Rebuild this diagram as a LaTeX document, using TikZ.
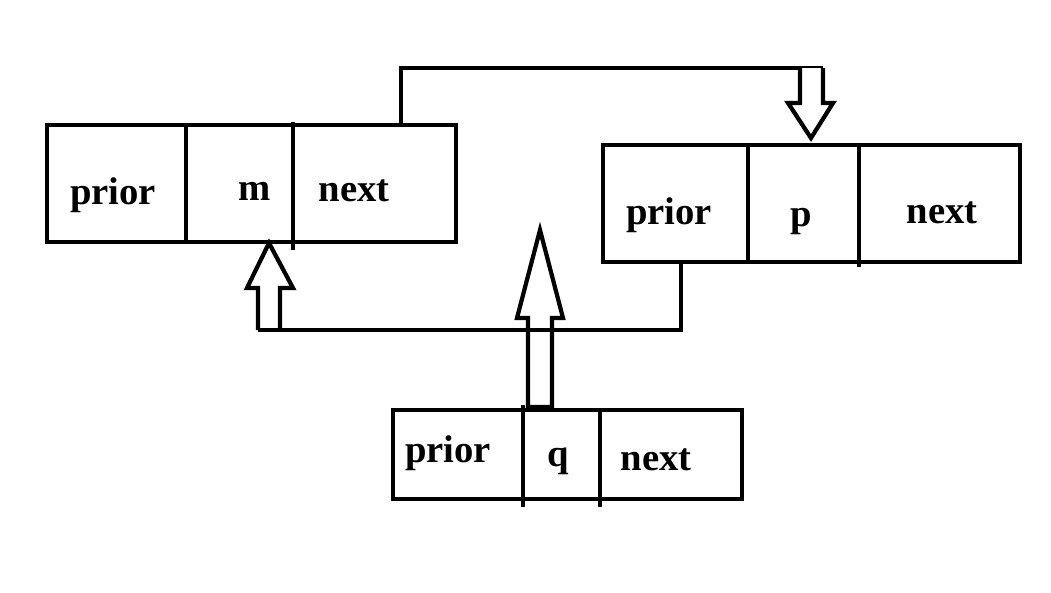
\documentclass[tikz,border=0pt]{standalone}
\usepackage{fontspec}
\setmainfont{Liberation Serif}

\begin{document}
\begin{tikzpicture}[x=0.025cm,y=-0.025cm,line width=3.5pt,
  lbl/.style={inner sep=0pt,font=\fontsize{27.5}{32}\selectfont\bfseries},
  hollow/.style={line width=3pt,line join=miter,fill=white}]
\path[use as bounding box,fill=white] (0,0) rectangle (1051,592);
% node m
\draw (47,125) rectangle (456,242);
\draw (186,125) -- (186,242);
\draw (293,122) -- (293,250);
\node[lbl] (mprior) at (113,195) {prior};
\node[lbl] (mdata) at (255,191) {m};
\node[lbl] (mnext) at (354,191) {next};
% node p
\draw (603,145) rectangle (1020,262);
\draw (748,145) -- (748,262);
\draw (859,147) -- (859,267);
\node[lbl] (pprior) at (669,215) {prior};
\node[lbl] (pdata) at (801,222) {p};
\node[lbl] (pnext) at (942,213) {next};
% node q
\draw (393,410) rectangle (742,499);
\draw (523,405) -- (523,507);
\draw (600,410) -- (600,507);
\node[lbl] (qprior) at (448,453) {prior};
\node[lbl] (qdata) at (558,461) {q};
\node[lbl] (qnext) at (656,460) {next};
\coordinate (mout) at (401,125);
\coordinate (pout) at (681,262);
% m.next -> p
\draw[line width=3pt] (mout) -- (401,68) -- (823,68);
\draw[hollow] (800,68) -- (800,103) -- (788,103) -- (811,138) -- (833,103) -- (823,103) -- (823,68);
% q -> m.next
\draw[hollow] (528,407) -- (528,318) -- (517,318) -- (540,230) -- (563,318) -- (552,318) -- (552,407) -- cycle;
% p.prior -> m
\draw[hollow] (258,330) -- (258,288) -- (247,288) -- (269,243) -- (293,288) -- (280,288) -- (280,330);
\draw[line width=3pt] (pout) -- (681,330) -- (258,330);
\end{tikzpicture}
\end{document}
